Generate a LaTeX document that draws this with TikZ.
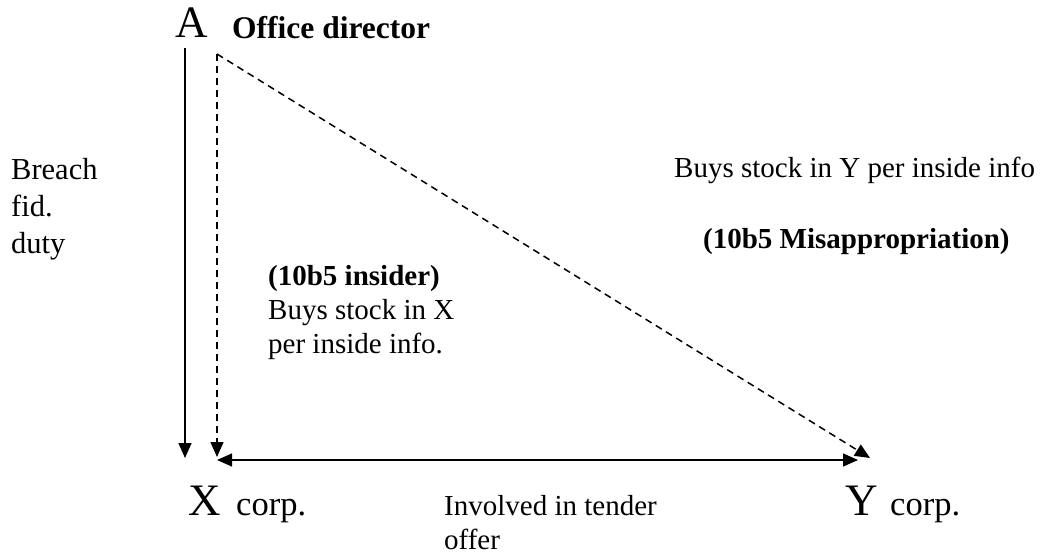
\documentclass[tikz,border=0pt]{standalone}
\usepackage{fontspec}
\setmainfont{Liberation Serif}
\usetikzlibrary{arrows.meta}
\begin{document}
\begin{tikzpicture}[x=1pt,y=-1pt,
  txt/.style={inner sep=0pt, anchor=base west, font=\fontsize{29}{34}\selectfont, align=left},
  btxt/.style={txt, font=\bfseries\fontsize{29}{34}\selectfont},
  big/.style={inner sep=0pt, anchor=base west, font=\fontsize{45}{50}\selectfont},
  corp/.style={inner sep=0pt, anchor=base west, font=\fontsize{34.5}{40}\selectfont},
  arr/.style={line width=1.5pt, -{Triangle[length=15pt,width=13pt]}},
  dsh/.style={arr, dash pattern=on 7pt off 5pt}]
\useasboundingbox (0,0) rectangle (1041,559);
\node[big] (A) at (175,38) {A};
\node[btxt, font=\bfseries\fontsize{31.5}{36}\selectfont] (office) at (232,39) {Office director};
\node[big] (X) at (188,515) {X};
\node[corp] (xcorp) at (236,515) {corp.};
\node[big] (Y) at (845,515) {Y};
\node[corp] (ycorp) at (890,515) {corp.};
\node[txt, font=\fontsize{30.5}{37}\selectfont] (breach) at (11,253) {Breach\\fid.\\duty};
\node[txt] (ins) at (268,353) {\textbf{(10b5 insider)}\\Buys stock in X\\per inside info.};
\node[txt] (buysy) at (674,177) {Buys stock in Y per inside info};
\node[btxt] (mis) at (703,248) {(10b5 Misappropriation)};
\node[txt] (tender) at (444,549) {Involved in tender\\offer};
\coordinate (s1) at (185,48);
\coordinate (s2) at (185,458);
\coordinate (d0) at (217,54);
\coordinate (d1) at (217,457);
\coordinate (d2) at (870,458);
\coordinate (h1) at (217,460);
\coordinate (h2) at (858,460);
\draw[arr] (s1) -- (s2);
\draw[dsh] (d0) -- (d1);
\draw[dsh] (d0) -- (d2);
\draw[line width=1.5pt, {Triangle[length=15pt,width=13pt]}-{Triangle[length=15pt,width=13pt]}] (h1) -- (h2);
\end{tikzpicture}
\end{document}
